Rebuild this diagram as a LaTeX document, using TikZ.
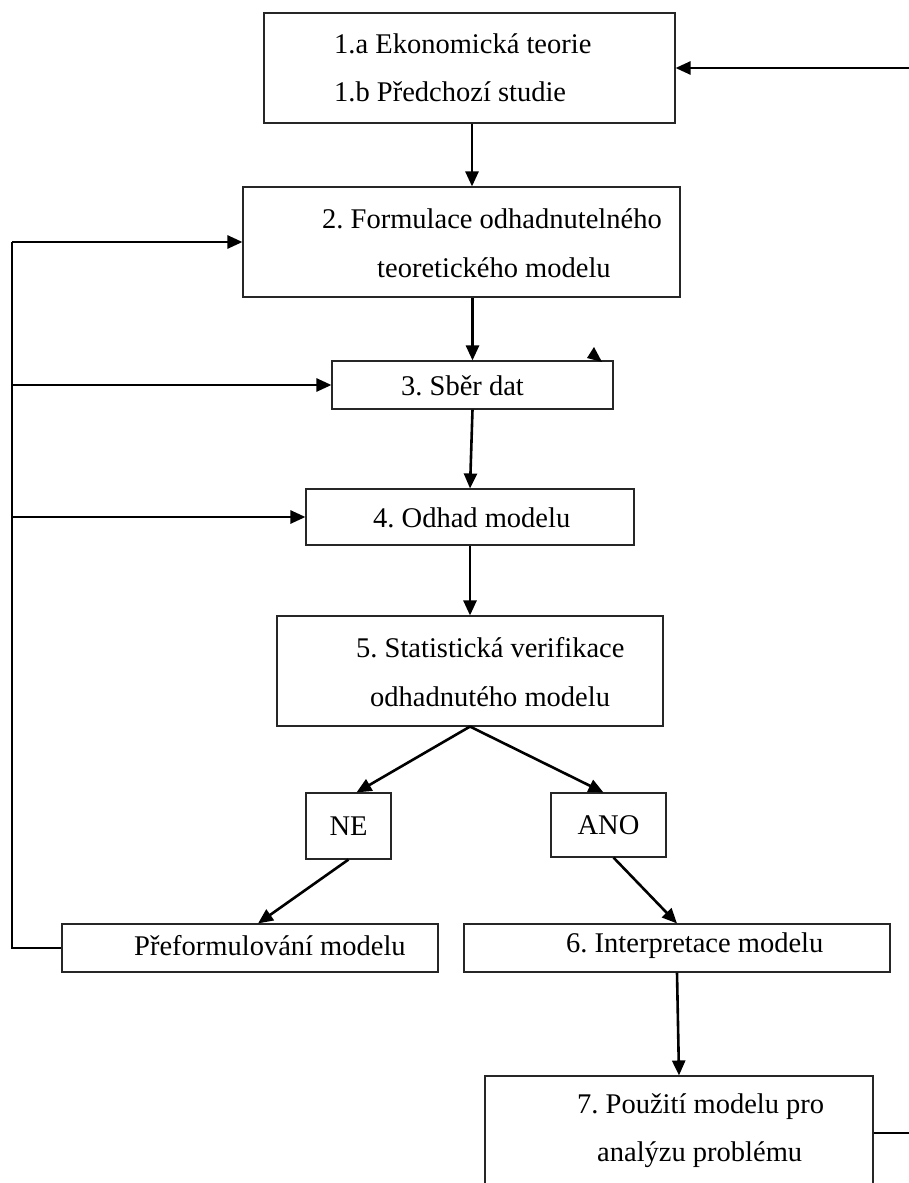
\documentclass[tikz,border=0pt]{standalone}
\usepackage{fontspec}
\setmainfont{Liberation Serif}
\usetikzlibrary{arrows.meta,calc}
\frenchspacing
\begin{document}
\begin{tikzpicture}[x=1pt,y=-1pt,
  box/.style={draw=black!85,line width=1.1pt,rectangle,inner sep=0pt,anchor=center},
  lbl/.style={anchor=west,inner sep=0pt,font=\fontsize{28.5}{34}\selectfont},
  clbl/.style={anchor=center,inner sep=0pt,font=\fontsize{28.5}{34}\selectfont},
  conn/.style={line width=2.6pt},
  arr/.style={conn,-{Triangle[length=15pt,width=13pt]}}]
\useasboundingbox[fill=white] (0,0) rectangle (909,1183);
% boxes
\node[box,minimum width=411pt,minimum height=110pt] (b1) at (469.5,68) {};
\node[box,minimum width=437pt,minimum height=110pt] (b2) at (461.5,242) {};
\node[box,minimum width=281pt,minimum height=48pt] (b3) at (472.5,385) {};
\node[box,minimum width=328pt,minimum height=56pt] (b4) at (470,517) {};
\node[box,minimum width=386pt,minimum height=110pt] (b5) at (470,671) {};
\node[box,minimum width=85pt,minimum height=66pt] (ne) at (348.5,826) {};
\node[box,minimum width=115pt,minimum height=64pt] (ano) at (608.5,825) {};
\node[box,minimum width=376pt,minimum height=48pt] (pf) at (250,948) {};
\node[box,minimum width=426pt,minimum height=48pt] (b6) at (677,948) {};
\node[box,minimum width=388pt,minimum height=114pt] (b7) at (679,1133) {};
% texts
\node[lbl] (t1a) at (334,44) {1.a Ekonomická teorie};
\node[lbl] (t1b) at (334,92) {1.b Předchozí studie};
\node[lbl] (t2a) at (322,219) {2. Formulace odhadnutelného};
\node[lbl] (t2b) at (377,268) {teoretického modelu};
\node[lbl] (t3) at (401,386) {3. Sběr dat};
\node[lbl] (t4) at (373,518) {4. Odhad modelu};
\node[lbl] (t5a) at (356,648) {5. Statistická verifikace};
\node[lbl] (t5b) at (370,697) {odhadnutého modelu};
\node[clbl] (tne) at (ne.center) {NE};
\node[clbl] (tano) at (ano.center) {ANO};
\node[lbl] (tpf) at (134,946) {Přeformulování modelu};
\node[lbl] (t6) at (566,946) {6. Interpretace modelu};
\node[lbl] (t7a) at (577,1107) {7. Použití modelu pro};
\node[lbl] (t7b) at (597,1155) {analýzu problému};
% free ends
\coordinate (R1) at (909,68);
\coordinate (R7) at (909,1133);
\coordinate (L) at (12,0);
% connectors
\draw[arr] (R1) -- (b1.east);
\draw[arr] ($(b1.south)+(2.5,0)$) -- ($(b1.south |- b2.north)+(2.5,0)$);
\draw[arr] (b2.south -| b3.north) -- (b3.north);
\draw[arr] (b3.south) -- (b4.north);
\draw[arr] (b4.south) -- (b5.north);
\draw[arr] (b5.south) -- ($(ne.north)+(8,0)$);
\draw[arr] (b5.south) -- ($(ano.north)+(-5,0)$);
\draw[arr] (ne.south) -- ($(pf.north)+(8,0)$);
\draw[arr] ($(ano.south)+(5,0)$) -- (b6.north);
\draw[arr] (b6.south) -- (b7.north);
\draw[conn] (b7.east) -- (R7);
\draw[conn,line join=miter] (b2.west -| L) -- (pf.west -| L) -- (pf.west);
\draw[arr] (b2.west -| L) -- (b2.west);
\draw[arr] (b3.west -| L) -- (b3.west);
\draw[arr] (b4.west -| L) -- (b4.west);
% stray arrowhead above box 3
\fill (594,347) -- (587,358) -- (602,362) -- cycle;
\end{tikzpicture}
\end{document}
